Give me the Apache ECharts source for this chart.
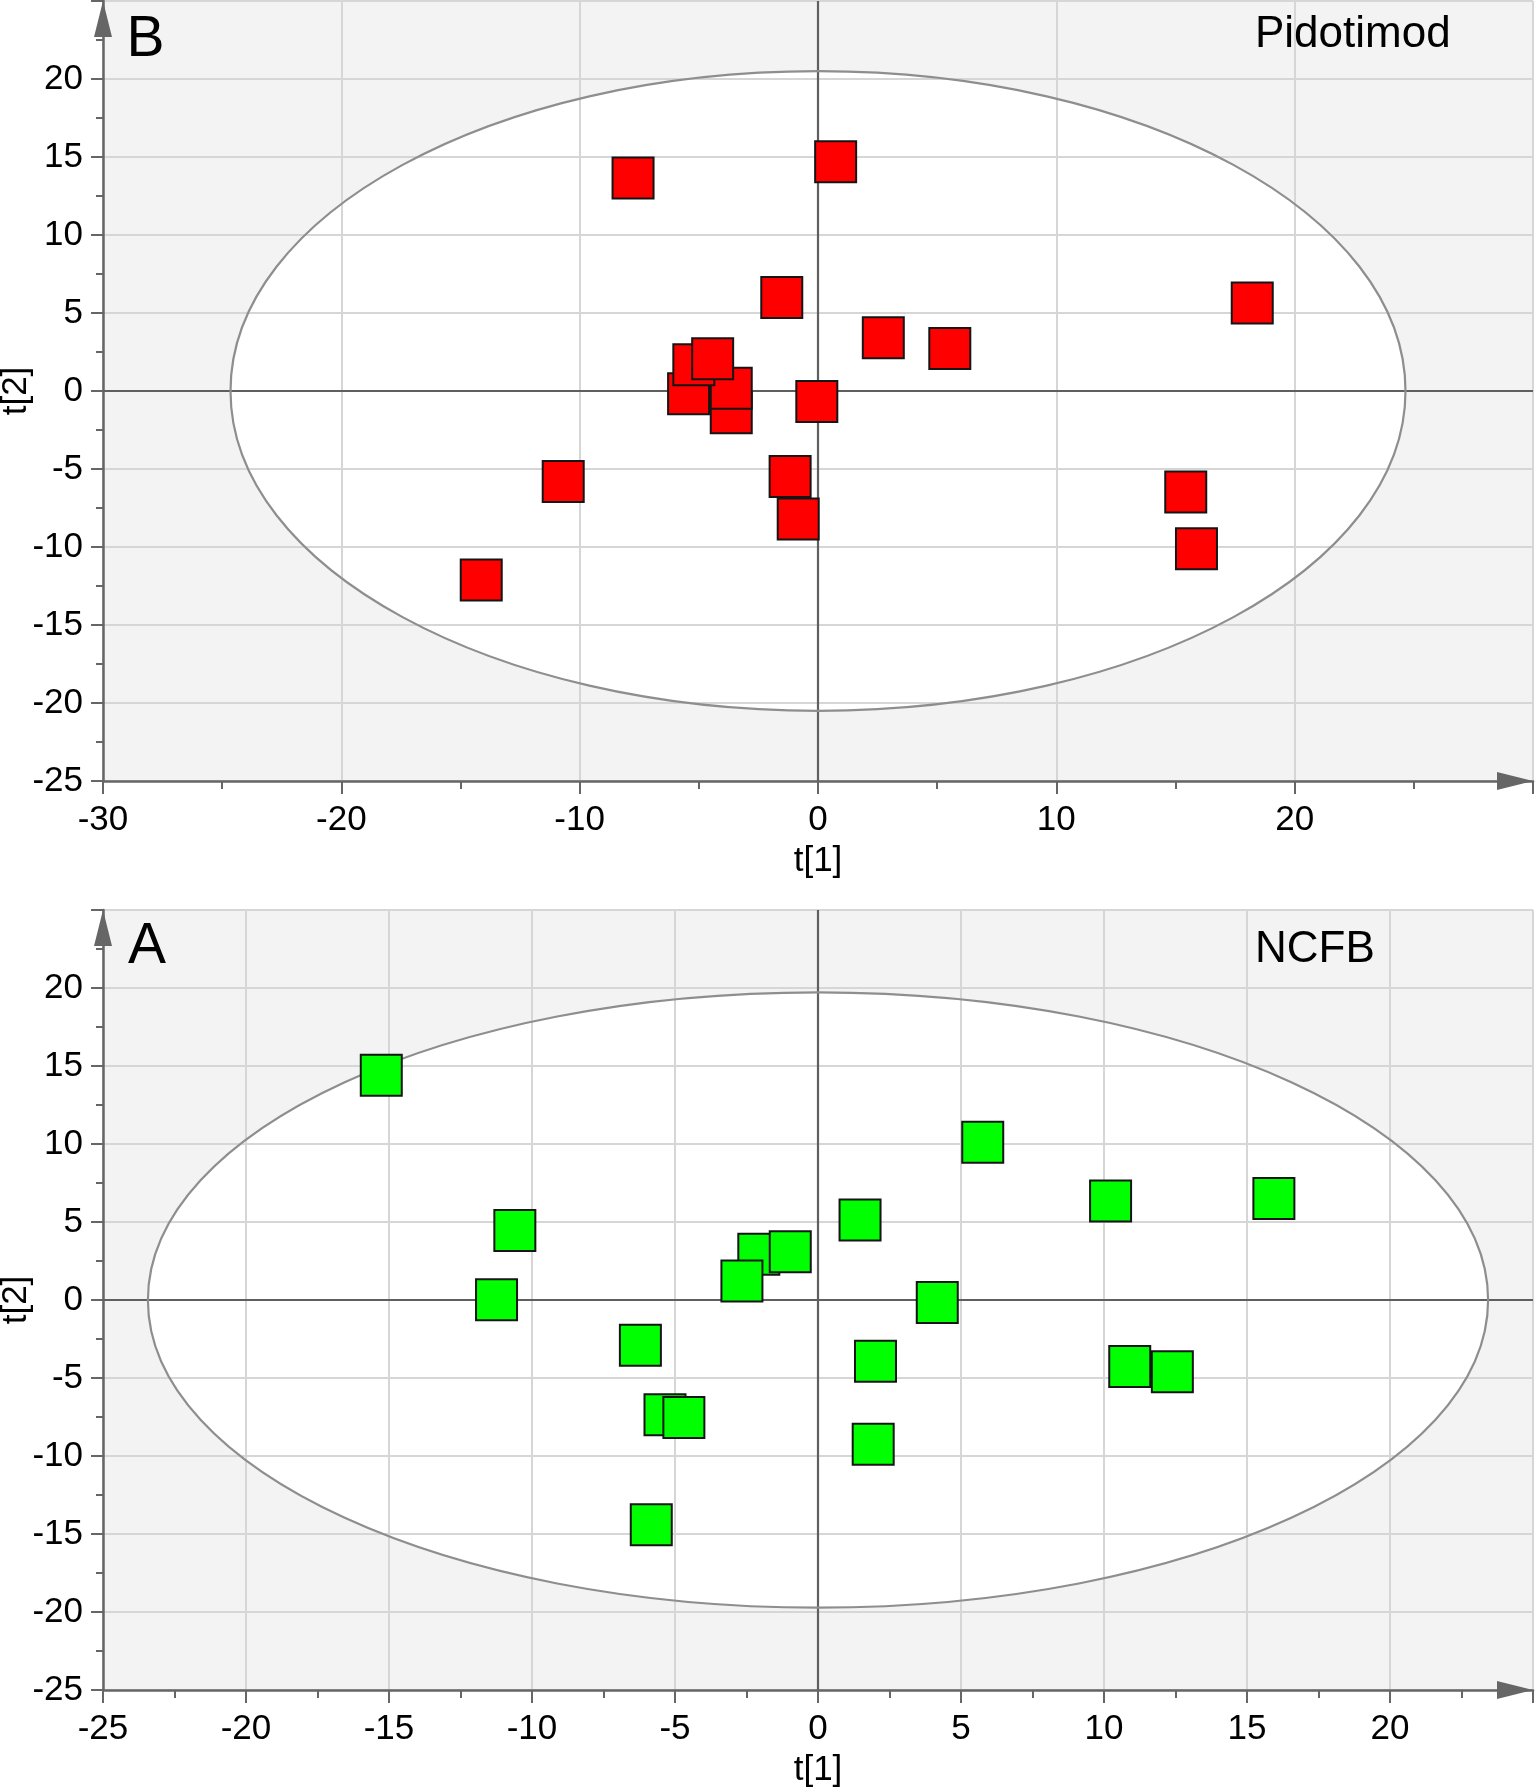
<!DOCTYPE html>
<html>
<head>
<meta charset="utf-8">
<script src="https://cdn.jsdelivr.net/npm/echarts@6/dist/echarts.min.js"></script>
<style>
html,body{margin:0;padding:0;background:#ffffff;}
#chart{width:1535px;height:1791px;}
</style>
</head>
<body>
<div id="chart"></div>
<script>
// ---- Panel B: Pidotimod (score plot t[1] vs t[2]) ----
const pidotimodT1 = [-7.76, 0.74, -1.52, 2.74, 5.53, 18.22, -10.69, -1.17, -0.83, -14.13, 15.43, 15.88, -0.05, -3.64, -3.64, -5.43, -5.21, -4.42];
const pidotimodT2 = [13.65, 14.70, 5.99, 3.41, 2.73, 5.64, -5.80, -5.48, -8.21, -12.11, -6.48, -10.11, -0.68, -1.39, 0.17, -0.17, 1.68, 2.07];

// ---- Panel A: NCFB ----
const ncfbT1 = [-15.27, -10.60, -11.24, -6.21, -5.35, -4.69, -5.83, -2.07, -0.97, -2.66, 1.47, 2.01, 1.93, 5.76, 10.23, 15.94, 4.17, 10.90, 12.39];
const ncfbT2 = [14.40, 4.45, 0.01, -2.90, -7.35, -7.53, -14.40, 2.93, 3.09, 1.21, 5.13, -3.93, -9.25, 10.11, 6.34, 6.50, -0.16, -4.26, -4.60];

// Hotelling T2 ellipse: [centre t1, centre t2, semi-axis t1, semi-axis t2]
const ellipseB = [0, 0, 24.65, 20.5];
const ellipseA = [0, 0, 23.43, 19.72];

// axis ranges [min, max, interval]
const xRangeB = [-30, 30, 10];
const xRangeA = [-25, 25, 5];
const yRange = [-25, 25, 5];

const panelLetters = ['B', 'A'];
const panelTitles = ['Pidotimod', 'NCFB'];
const xName = 't[1]';
const yName = 't[2]';

const FONT = '"Liberation Sans", Arial, sans-serif';
const AX = '#666666';
const GRIDC = '#d6d6d6';

function xAxisCfg(gi, r) {
  return {
    type: 'value', gridIndex: gi, min: r[0], max: r[1], interval: r[2],
    name: xName, nameLocation: 'middle', nameGap: 63, nameMoveOverlap: false,
    nameTextStyle: {fontSize: 35, color: '#000', fontFamily: FONT},
    axisLine: {show: true, onZero: false, lineStyle: {color: AX, width: 2.5},
      symbol: ['none', 'triangle'], symbolSize: [18, 36], symbolOffset: [0, -18]},
    axisTick: {show: true, length: 13, lineStyle: {color: AX, width: 2}},
    minorTick: {show: true, splitNumber: 2, length: 8, lineStyle: {color: AX, width: 2}},
    splitLine: {show: true, lineStyle: {color: GRIDC, width: 2}},
    axisLabel: {fontSize: 35, color: '#000', fontFamily: FONT, margin: 22, showMaxLabel: false}
  };
}
function yAxisCfg(gi) {
  return {
    type: 'value', gridIndex: gi, min: yRange[0], max: yRange[1], interval: yRange[2],
    name: yName, nameLocation: 'middle', nameGap: 69, nameRotate: 90, nameMoveOverlap: false,
    nameTextStyle: {fontSize: 35, color: '#000', fontFamily: FONT},
    axisLine: {show: true, onZero: false, lineStyle: {color: AX, width: 2.5},
      symbol: ['none', 'triangle'], symbolSize: [18, 36], symbolOffset: [0, -18]},
    axisTick: {show: true, length: 12, lineStyle: {color: AX, width: 2}},
    minorTick: {show: true, splitNumber: 2, length: 7, lineStyle: {color: AX, width: 2}},
    splitLine: {show: true, lineStyle: {color: GRIDC, width: 2}},
    axisLabel: {fontSize: 35, color: '#000', fontFamily: FONT, margin: 20, showMaxLabel: false}
  };
}

function fillItem(params, api) {
  const c = api.coord([api.value(0), api.value(1)]);
  const s = api.size([api.value(2), api.value(3)]);
  return {type: 'ellipse', shape: {cx: c[0], cy: c[1], rx: s[0], ry: s[1]},
    style: {fill: '#ffffff', stroke: 'none'}};
}
function strokeItem(params, api) {
  const cs = params.coordSys;
  const c = api.coord([api.value(0), api.value(1)]);
  const s = api.size([api.value(2), api.value(3)]);
  return {type: 'group', children: [
    {type: 'line', shape: {x1: cs.x, y1: c[1], x2: cs.x + cs.width, y2: c[1]},
      style: {stroke: '#5f5f5f', lineWidth: 2.2}},
    {type: 'line', shape: {x1: c[0], y1: cs.y, x2: c[0], y2: cs.y + cs.height},
      style: {stroke: '#5f5f5f', lineWidth: 2.2}},
    {type: 'ellipse', shape: {cx: c[0], cy: c[1], rx: s[0], ry: s[1]},
      style: {fill: 'none', stroke: '#8e8e8e', lineWidth: 2.2}}
  ]};
}

function pairs(a, b) { return a.map((v, i) => [v, b[i]]); }

function textEl(txt, x, y, size) {
  return {type: 'text', x: x, y: y, z: 10,
    style: {text: txt, fill: '#000', font: size + 'px ' + FONT,
      fontSize: size, fontFamily: FONT,
      align: 'left', verticalAlign: 'middle', textAlign: 'left', textVerticalAlign: 'middle'}};
}

const chart = echarts.init(document.getElementById('chart'), null, {renderer: 'canvas'});
chart.setOption({
  animation: false,
  backgroundColor: '#ffffff',
  grid: [
    {left: 103, top: 1, width: 1430, height: 780, show: true, backgroundColor: '#f3f3f3',
      borderWidth: 0, z: -2, containLabel: false, outerBoundsMode: 'none'},
    {left: 103, top: 910, width: 1430, height: 780, show: true, backgroundColor: '#f3f3f3',
      borderWidth: 0, z: -2, containLabel: false, outerBoundsMode: 'none'}
  ],
  xAxis: [xAxisCfg(0, xRangeB), xAxisCfg(1, xRangeA)],
  yAxis: [yAxisCfg(0), yAxisCfg(1)],
  graphic: [
    textEl(panelLetters[0], 126.5, 40, 57),
    textEl(panelTitles[0], 1255, 35, 44),
    textEl(panelLetters[1], 128, 947.5, 57),
    textEl(panelTitles[1], 1255, 949.5, 44)
  ],
  series: [
    {type: 'custom', xAxisIndex: 0, yAxisIndex: 0, z: -1, silent: true, clip: false,
      data: [ellipseB], encode: {x: 0, y: 1}, renderItem: fillItem},
    {type: 'custom', xAxisIndex: 0, yAxisIndex: 0, z: 1, silent: true, clip: false,
      data: [ellipseB], encode: {x: 0, y: 1}, renderItem: strokeItem},
    {type: 'scatter', xAxisIndex: 0, yAxisIndex: 0, z: 3, symbol: 'rect', symbolSize: 41,
      itemStyle: {color: '#ff0000', borderColor: '#151515', borderWidth: 2, opacity: 1},
      data: pairs(pidotimodT1, pidotimodT2)},
    {type: 'custom', xAxisIndex: 1, yAxisIndex: 1, z: -1, silent: true, clip: false,
      data: [ellipseA], encode: {x: 0, y: 1}, renderItem: fillItem},
    {type: 'custom', xAxisIndex: 1, yAxisIndex: 1, z: 1, silent: true, clip: false,
      data: [ellipseA], encode: {x: 0, y: 1}, renderItem: strokeItem},
    {type: 'scatter', xAxisIndex: 1, yAxisIndex: 1, z: 3, symbol: 'rect', symbolSize: 41,
      itemStyle: {color: '#00ff00', borderColor: '#151515', borderWidth: 2, opacity: 1},
      data: pairs(ncfbT1, ncfbT2)}
  ]
});
</script>
</body>
</html>
